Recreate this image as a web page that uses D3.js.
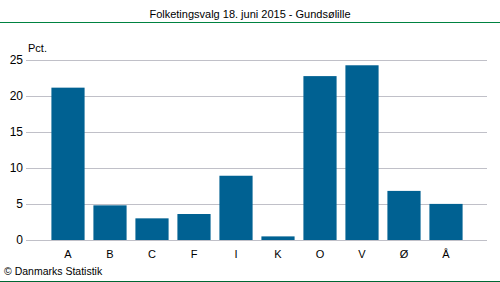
<!DOCTYPE html>
<html>
<head>
<meta charset="utf-8">
<script src="https://cdn.jsdelivr.net/npm/d3@7"></script>
<style>
  body { margin: 0; background: #fff; }
  text { font-family: "Liberation Sans", Arial, sans-serif; fill: #000; }
</style>
</head>
<body>
<div id="container"></div>
<script>
const categories = ["A", "B", "C", "F", "I", "K", "O", "V", "Ø", "Å"];
const values = [21.1, 4.8, 3.0, 3.6, 8.9, 0.5, 22.7, 24.2, 6.8, 5.0];
const yTicks = [0, 5, 10, 15, 20, 25];
const title = "Folketingsvalg 18. juni 2015 - Gundsølille";

const W = 500, H = 282;
const svg = d3.select("#container")
  .append("svg")
  .attr("width", W)
  .attr("height", H);

// header and footer rules
svg.append("line")
  .attr("x1", 0).attr("x2", W)
  .attr("y1", 22.5).attr("y2", 22.5)
  .attr("stroke", "#008241").attr("stroke-width", 1);
svg.append("line")
  .attr("x1", 0).attr("x2", W)
  .attr("y1", 281.5).attr("y2", 281.5)
  .attr("stroke", "#006633").attr("stroke-width", 1);

svg.append("text")
  .attr("x", 250).attr("y", 18)
  .attr("text-anchor", "middle")
  .style("font-size", "11px")
  .text(title);

// scales
const y = d3.scaleLinear().domain([0, 25]).range([240, 59.5]);
const x = d3.scaleBand()
  .domain(categories)
  .range([47, 467])
  .paddingInner(0.21)
  .paddingOuter(0.105);

// grid lines
svg.append("g")
  .selectAll("line")
  .data(yTicks)
  .join("line")
  .attr("x1", 26).attr("x2", 487)
  .attr("y1", d => Math.round(y(d)) + 0.5)
  .attr("y2", d => Math.round(y(d)) + 0.5)
  .attr("stroke", "#c0c0c8");

// y labels
svg.append("g")
  .selectAll("text")
  .data(yTicks)
  .join("text")
  .attr("x", 23)
  .attr("y", d => y(d) + 4)
  .attr("text-anchor", "end")
  .style("font-size", "12px")
  .text(d => d);

svg.append("text")
  .attr("x", 28).attr("y", 52)
  .style("font-size", "11px")
  .text("Pct.");

// bars
svg.append("g")
  .selectAll("rect")
  .data(categories)
  .join("rect")
  .attr("x", d => x(d))
  .attr("width", x.bandwidth())
  .attr("y", (d, i) => y(values[i]))
  .attr("height", (d, i) => y(0) - y(values[i]))
  .attr("fill", "#006192");

// x labels
svg.append("g")
  .selectAll("text")
  .data(categories)
  .join("text")
  .attr("x", d => x(d) + x.bandwidth() / 2)
  .attr("y", 258)
  .attr("text-anchor", "middle")
  .style("font-size", "11px")
  .text(d => d);

svg.append("text")
  .attr("x", 4).attr("y", 275)
  .style("font-size", "10.5px")
  .text("© Danmarks Statistik");
</script>
</body>
</html>
